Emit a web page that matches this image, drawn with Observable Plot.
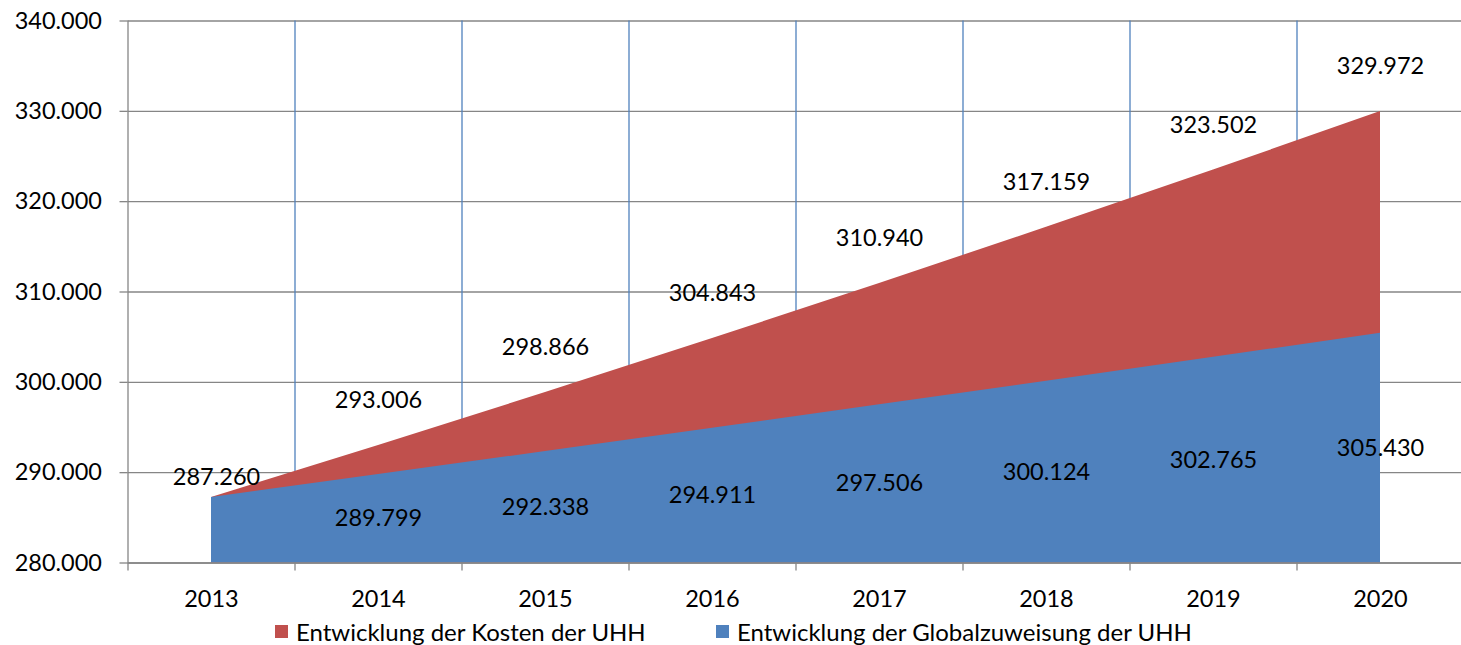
<!DOCTYPE html>
<html>
<head>
<meta charset="utf-8">
<script src="https://cdn.jsdelivr.net/npm/d3@7"></script>
<script src="https://cdn.jsdelivr.net/npm/@observablehq/plot@0.6"></script>
<style>
  html, body { margin: 0; padding: 0; background: #fff; }
  #wrap { position: relative; width: 1461px; height: 645px; font-family: Lato, "Open Sans", sans-serif; overflow: hidden; }
  .legend { position: absolute; top: 617px; display: flex; align-items: center; font-size: 24px; color: #000; white-space: nowrap; }
  .sw { width: 13px; height: 13px; margin-right: 8px; }
</style>
</head>
<body>
<div id="wrap"></div>
<script>
const years = [2013, 2014, 2015, 2016, 2017, 2018, 2019, 2020];
const kosten = [287260, 293006, 298866, 304843, 310940, 317159, 323502, 329972];
const global = [287260, 289799, 292338, 294911, 297506, 300124, 302765, 305430];
const yTicks = [280000, 290000, 300000, 310000, 320000, 330000, 340000];
const seriesNames = ["Entwicklung der Kosten der UHH", "Entwicklung der Globalzuweisung der UHH"];
const seriesColors = ["#C0504D", "#4F81BD"];

const yMin = yTicks[0], yMax = yTicks[yTicks.length - 1];
const data = years.map((y, i) => ({year: y, kosten: kosten[i], global: global[i]}));
const bounds = years.slice(0, -1).map(y => y + 0.5);
const allBounds = [years[0] - 0.5, ...years.map(y => y + 0.5)];
const de = d3.formatLocale({decimal: ",", thousands: ".", grouping: [3], currency: ["", " €"]});
const fmt = de.format(",d");
const FS = 23.5;

const chart = Plot.plot({
  width: 1461,
  height: 612,
  marginLeft: 127.5, marginRight: -2.5, marginTop: 20.5, marginBottom: 49.5,
  style: {fontFamily: "Lato, 'Open Sans', sans-serif", fontSize: FS + "px", color: "#000", background: "#fff", overflow: "visible"},
  x: {type: "linear", domain: [years[0] - 0.5, years[years.length - 1] + 0.5], range: [127.5, 1463.5]},
  y: {domain: [yMin, yMax], range: [562.5, 20.5]},
  marks: [
    Plot.ruleY(yTicks, {y: d => d, x1: years[0] - 0.5, x2: years[years.length - 1] + 0.5, stroke: "#868686", strokeWidth: 1.3}),
    Plot.ruleX(bounds, {x: d => d, y1: yMin, y2: yMax, stroke: "#4F81BD", strokeWidth: 1.3}),
    Plot.areaY(data, {x: "year", y1: yMin, y2: "kosten", fill: seriesColors[0]}),
    Plot.areaY(data, {x: "year", y1: yMin, y2: "global", fill: seriesColors[1]}),
    Plot.ruleX([years[0] - 0.5], {x: d => d, y1: yMin, y2: yMax, stroke: "#868686", strokeWidth: 1.3}),
    Plot.ruleY([yMin], {y: d => d, stroke: "#868686", strokeWidth: 1.3}),
    Plot.axisY({ticks: yTicks, tickFormat: fmt, tickSize: 8, tickPadding: 18, stroke: "#868686", strokeWidth: 1.3, fontSize: FS, fill: "#000", label: null}),
    Plot.axisX({ticks: allBounds, tickFormat: () => "", tickSize: 8, stroke: "#868686", strokeWidth: 1.3, label: null}),
    Plot.axisX({ticks: years, tickFormat: d => String(d), tickSize: 0, tickPadding: 27, fontSize: FS, fill: "#000", label: null}),
    Plot.text(data.filter(d => d.year === years[0]), {x: "year", y: "kosten", text: d => fmt(d.kosten), dy: -20, dx: 5, fontSize: FS, fill: "#000"}),
    Plot.text(data.filter(d => d.year !== years[0]), {x: "year", y: "kosten", text: d => fmt(d.kosten), dy: -45, fontSize: FS, fill: "#000"}),
    Plot.text(data.filter(d => d.year !== years[0]), {x: "year", y: d => (yMin + d.global) / 2, text: d => fmt(d.global), fontSize: FS, fill: "#000"})
  ]
});

const wrap = document.getElementById("wrap");
wrap.appendChild(chart);
const lefts = [275, 716];
seriesNames.forEach((name, i) => {
  const item = document.createElement("div");
  item.className = "legend";
  item.style.left = lefts[i] + "px";
  const sw = document.createElement("div");
  sw.className = "sw";
  sw.style.background = seriesColors[i];
  const t = document.createElement("span");
  t.textContent = name;
  item.appendChild(sw);
  item.appendChild(t);
  wrap.appendChild(item);
});
</script>
</body>
</html>
